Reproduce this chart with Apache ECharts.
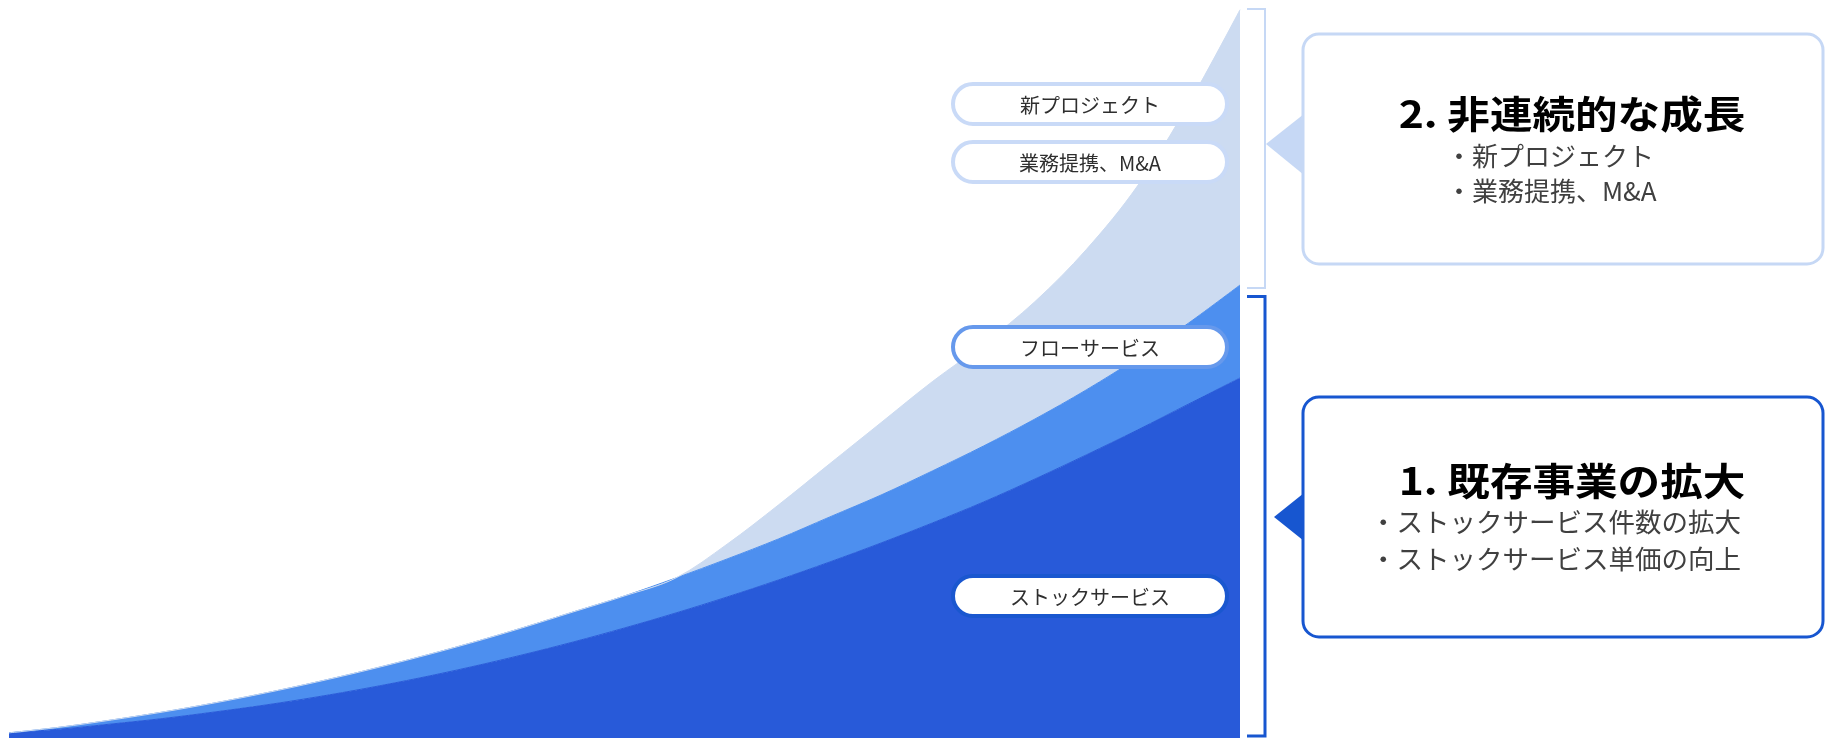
<!DOCTYPE html>
<html>
<head>
<meta charset="utf-8">
<script src="https://cdn.jsdelivr.net/npm/echarts/dist/echarts.min.js"></script>
<style>
html,body{margin:0;padding:0;background:#ffffff;}
#main{width:1825px;height:738px;}
</style>
</head>
<body>
<div id="main"></div>
<script>
// ---- data ----
const periods = ['1','2','3','4','5','6','7','8','9','10','11','12','13','14','15','16','17','18','19','20','21','22','23','24','25'];
// ストックサービス (base layer)
const stockValues = [0.7,1.2,1.9,2.64,3.52,4.47,5.56,6.78,8.13,9.62,11.25,13.01,14.91,16.94,19.11,21.41,23.85,26.42,29.13,31.98,35.09,38.35,41.73,45.26,48.78];
// フローサービス (stacked on stock)
const flowValues = [0,0.27,0.54,0.88,1.22,1.63,2.03,2.44,2.85,3.25,3.66,4.07,4.34,4.74,5.15,5.56,6.1,6.5,7.05,7.59,8.13,8.81,9.76,10.98,12.6];
// 非連続的な成長 (新プロジェクト / 業務提携、M&A)
const nonContinuousValues = [0,0,0,0,0,0,0,0,0,0,0,0,0,0,2.0,4.6,7.2,9.8,12.1,13.8,15.9,19.0,23.3,29.7,37.3];

const seriesNames = ['ストックサービス','フローサービス','非連続的な成長'];
const pillLabels = ['新プロジェクト','業務提携、M&A','フローサービス','ストックサービス'];
const boxTitles = ['2. 非連続的な成長','1. 既存事業の拡大'];
const box2Items = ['・新プロジェクト','・業務提携、M&A'];
const box1Items = ['・ストックサービス件数の拡大','・ストックサービス単価の向上'];

// ---- styles ----
const C_DARK = '#285AD9';
const C_MID = '#4D8FEF';
const C_LIGHT = '#CCDBF1';
const C_BOX2 = '#C6D8F5';
const C_BOX1 = '#1756D0';
const FONT = '"Noto Sans CJK JP","Noto Sans",sans-serif';

const chart = echarts.init(document.getElementById('main'), null, {renderer: 'canvas'});

function areaSeries(name, data, color) {
  return {
    name: name,
    type: 'line',
    stack: 'total',
    data: data,
    smooth: 0.35,
    symbol: 'none',
    lineStyle: {width: 1, color: color},
    areaStyle: {color: color, opacity: 1},
    itemStyle: {color: color},
    silent: true
  };
}

function pill(idx, cy, stroke) {
  const w = 274, h = 40, x = 953;
  return [
    {type: 'rect', z: 100, shape: {x: x, y: cy - h / 2, width: w, height: h, r: h / 2},
     style: {fill: '#ffffff', stroke: stroke, lineWidth: 4}},
    {type: 'text', z: 101, x: x + w / 2, y: cy + 1,
     style: {text: pillLabels[idx], font: '20px ' + FONT, fill: '#2e2e2e',
             textAlign: 'center', align: 'center', textVerticalAlign: 'middle', verticalAlign: 'middle'}}
  ];
}

function txt(str, x, y, font, fill, align, sx) {
  return {type: 'text', z: 101, x: x, y: y, scaleX: sx || 1,
    style: {text: str, font: font, fill: fill, textAlign: align, align: align,
            textVerticalAlign: 'middle', verticalAlign: 'middle'}};
}

const graphics = [].concat(
  pill(0, 104, '#C9DAF7'),
  pill(1, 162, '#C9DAF7'),
  pill(2, 347, '#6699EC'),
  pill(3, 596, '#1A57CF'),
  [
    // brackets
    {type: 'polyline', z: 100, shape: {points: [[1247, 9], [1265, 9], [1265, 288], [1247, 288]]},
     style: {stroke: '#C6D8F5', lineWidth: 2, fill: null}},
    {type: 'polyline', z: 100, shape: {points: [[1247, 296.5], [1265, 296.5], [1265, 736], [1247, 736]]},
     style: {stroke: C_BOX1, lineWidth: 3, fill: null}},
    // box 2
    {type: 'rect', z: 100, shape: {x: 1303, y: 34, width: 520, height: 230, r: 16},
     style: {fill: '#ffffff', stroke: C_BOX2, lineWidth: 3}},
    {type: 'polygon', z: 101, shape: {points: [[1266, 144], [1304, 114], [1304, 175]]},
     style: {fill: C_BOX2}},
    // box 1
    {type: 'rect', z: 100, shape: {x: 1303, y: 397, width: 520, height: 240, r: 16},
     style: {fill: '#ffffff', stroke: C_BOX1, lineWidth: 3}},
    {type: 'polygon', z: 101, shape: {points: [[1274, 517], [1304, 493], [1304, 541]]},
     style: {fill: C_BOX1}},
    // texts box 2
    txt(boxTitles[0], 1572, 114, 'bold 38px ' + FONT, '#000000', 'center', 1.12),
    txt(box2Items[0], 1446, 156, '26px ' + FONT, '#404040', 'left'),
    txt(box2Items[1], 1446, 191, '26px ' + FONT, '#404040', 'left'),
    // texts box 1
    txt(boxTitles[1], 1572, 481, 'bold 38px ' + FONT, '#000000', 'center', 1.12),
    txt(box1Items[0], 1370, 522, '26.5px ' + FONT, '#404040', 'left'),
    txt(box1Items[1], 1370, 559, '26.5px ' + FONT, '#404040', 'left')
  ]
);

chart.setOption({
  animation: false,
  backgroundColor: '#ffffff',
  grid: {left: 9, right: 585, top: 0, bottom: 0, containLabel: false},
  xAxis: {type: 'category', data: periods, boundaryGap: false, show: false},
  yAxis: {type: 'value', min: 0, max: 100, show: false},
  series: [
    areaSeries(seriesNames[0], stockValues, C_DARK),
    areaSeries(seriesNames[1], flowValues, C_MID),
    areaSeries(seriesNames[2], nonContinuousValues, C_LIGHT)
  ],
  graphic: {elements: graphics}
});
</script>
</body>
</html>
